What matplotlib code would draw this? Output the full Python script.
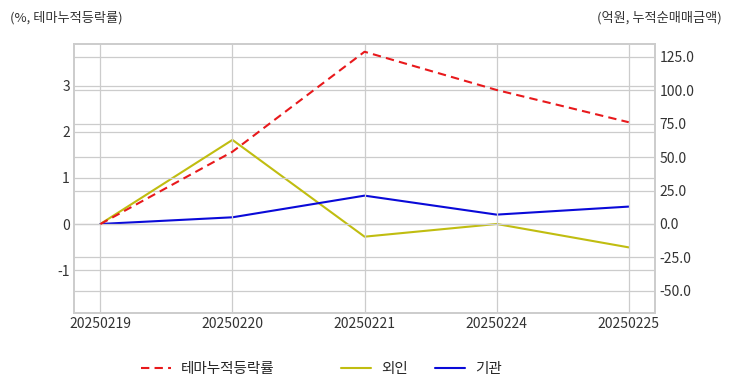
import matplotlib
matplotlib.use("Agg")
import matplotlib.pyplot as plt
import seaborn as sns

sns.set_style("whitegrid")
plt.rcParams['font.family'] = ['Noto Sans CJK KR', 'DejaVu Sans']
plt.rcParams['axes.unicode_minus'] = False

# data
dates = ["20250219", "20250220", "20250221", "20250224", "20250225"]
theme_ret = [0.0, 1.57, 3.74, 2.91, 2.21]      # % cumulative
foreign = [0.0, 62.9, -9.5, 0.0, -17.5]        # 억원
institution = [0.0, 5.0, 21.2, 7.0, 13.0]      # 억원

fig = plt.figure(figsize=(7.32, 3.92), dpi=100)
ax1 = fig.add_axes([0.101, 0.2015, 0.794, 0.6865])
ax2 = ax1.twinx()

x = range(len(dates))
l1, = ax1.plot(x, theme_ret, color='#e8191c', linestyle=(0, (4, 2.5)), linewidth=1.5, label='테마누적등락률')
l2, = ax2.plot(x, foreign, color='#c0bd10', linewidth=1.5, label='외인')
l3, = ax2.plot(x, institution, color='#0a0ad8', linewidth=1.5, label='기관')

ax1.set_xlim(-0.2, 4.2)
ax1.set_ylim(-1.93, 3.91)
ax2.set_ylim(-66.6, 134.7)
ax1.set_yticks([-1, 0, 1, 2, 3])
right_ticks = [-50, -25, 0, 25, 50, 75, 100, 125]
ax2.set_yticks(right_ticks)
ax2.set_yticklabels([f"{v:.1f}" for v in right_ticks])
ax1.set_xticks(list(x))
ax1.set_xticklabels(dates)

for ax in (ax1, ax2):
    ax.tick_params(axis='both', labelsize=10, colors='#333333', length=0, pad=3)
    ax.grid(True, color='#cccccc', linewidth=0.9)
    for s in ax.spines.values():
        s.set_color('#cccccc')
        s.set_linewidth(1.2)
ax2.grid(axis='x', visible=False)
ax1.set_zorder(2)
ax1.patch.set_visible(False)
ax2.set_zorder(1)

fig.text(0.014, 0.955, "(%, 테마누적등락률)", fontsize=9.5, color='#333333', ha='left', va='center')
fig.text(0.986, 0.955, "(억원, 누적순매매금액)", fontsize=9.5, color='#333333', ha='right', va='center')

fig.legend(handles=[l1], loc='center', bbox_to_anchor=(0.2835, 0.058), frameon=False,
           fontsize=10.5, handlelength=2.05, handletextpad=0.7)
fig.legend(handles=[l2, l3], loc='center', bbox_to_anchor=(0.576, 0.058), frameon=False,
           ncol=2, fontsize=10.5, handlelength=2.05, handletextpad=0.7, columnspacing=1.9)

fig.savefig("out.png", dpi=100)
